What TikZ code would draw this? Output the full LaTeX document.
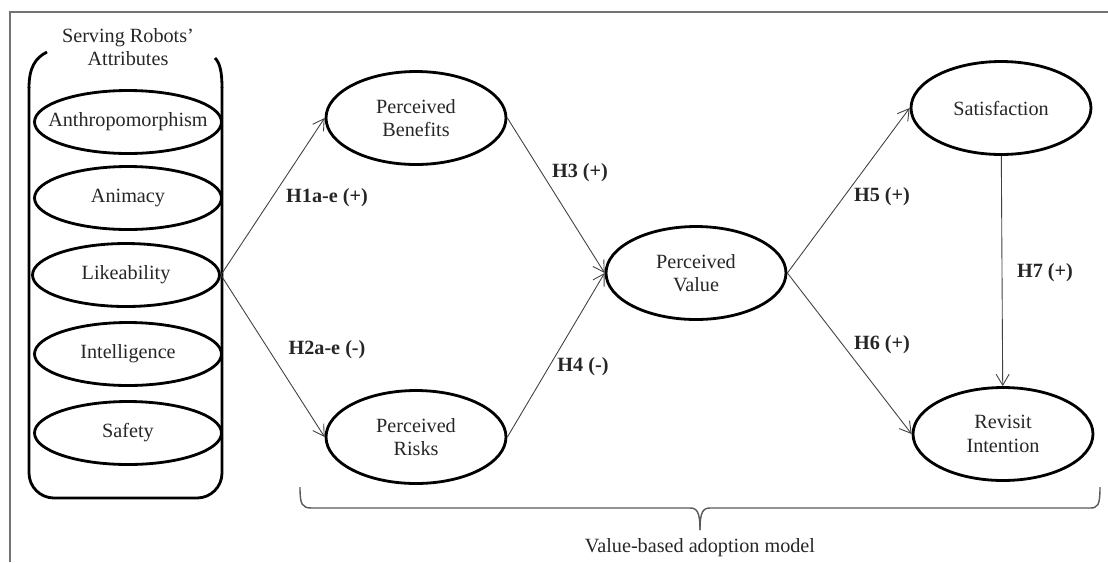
\documentclass[tikz,border=0pt]{standalone}
\usepackage{fontspec}
\setmainfont{Liberation Serif}
\usetikzlibrary{positioning,arrows.meta,shapes.geometric}

\begin{document}
\begin{tikzpicture}[x=0.02cm,y=-0.02cm,>={Straight Barb[length=2.2mm,width=2.6mm]},
    every node/.style={font=\fontsize{11.5}{13.5}\selectfont,text=black!85},
    attr/.style={draw=black,ellipse,line width=1.6pt,inner ysep=0pt,inner xsep=-0.4cm,minimum width=3.74cm,minimum height=1.26cm},
    latent/.style={draw=black,ellipse,line width=1.6pt,inner sep=0pt,minimum width=3.6cm,minimum height=1.86cm,align=center},
    link/.style={->,black!75,line width=0.5pt},
    hyp/.style={font=\fontsize{11.5}{13.5}\selectfont\bfseries}]
  \useasboundingbox (0,0) rectangle (1108,562);
  % outer frame
  \draw[black!55,line width=0.6pt] (10,562) -- (10,12) -- (1108,12);
  % attributes
  \node[align=center,font=\fontsize{11.5}{13.5}\selectfont] (title) at (128,47) {Serving Robots’\\Attributes};
  \draw[line width=1.6pt] (47,52) .. controls (35,58) and (29,68) .. (29,88);
  \draw[line width=1.6pt] (215,58) .. controls (220,63) and (222,72) .. (222,88);
  \draw[line width=1.6pt,rounded corners=0.5cm] (29,87) -- (29,498) -- (222,498) -- (222,87);
  \node[attr] (anthro) at (128,122) {Anthropomorphism};
  \node[attr] (anim) at (128,198) {Animacy};
  \node[attr] (like) at (126,275) {Likeability};
  \node[attr] (intel) at (128,354) {Intelligence};
  \node[attr] (safe) at (128,433) {Safety};
  % model
  \node[latent] (pb) at (416,118) {Perceived\\Benefits};
  \node[latent] (pr) at (416,437) {Perceived\\Risks};
  \node[latent] (pv) at (696,273) {Perceived\\Value};
  \node[latent] (sat) at (1001,108) {Satisfaction};
  \node[latent] (rev) at (1003,434) {Revisit\\Intention};
  \draw[link] (like.east) -- (pb.west);
  \draw[link] (like.east) -- (pr.west);
  \draw[link] (pb.east) -- (pv.west);
  \draw[link] (pr.east) -- (pv.west);
  \draw[link] (pv.east) -- (sat.west);
  \draw[link] (pv.east) -- (rev.west);
  \draw[link] (sat) -- (rev);
  \node[hyp] (h1) at (327,198) {H1a-e (+)};
  \node[hyp] (h2) at (327,350) {H2a-e (-)};
  \node[hyp] (h3) at (580,173) {H3 (+)};
  \node[hyp] (h4) at (583,367) {H4 (-)};
  \node[hyp] (h5) at (882,197) {H5 (+)};
  \node[hyp] (h6) at (882,345) {H6 (+)};
  \node[hyp] (h7) at (1045,273) {H7 (+)};
  % brace
  \draw[black!65,line width=0.8pt] (300,487) .. controls (300,505) and (302,508) .. (312,508) -- (690,508)
    .. controls (697,508) and (700,512) .. (700,530);
  \draw[black!65,line width=0.8pt] (700,530) .. controls (700,512) and (703,508) .. (710,508) -- (1090,508)
    .. controls (1098,508) and (1100,505) .. (1100,487);
  \node (vbam) at (700,548) {Value-based adoption model};
\end{tikzpicture}
\end{document}
